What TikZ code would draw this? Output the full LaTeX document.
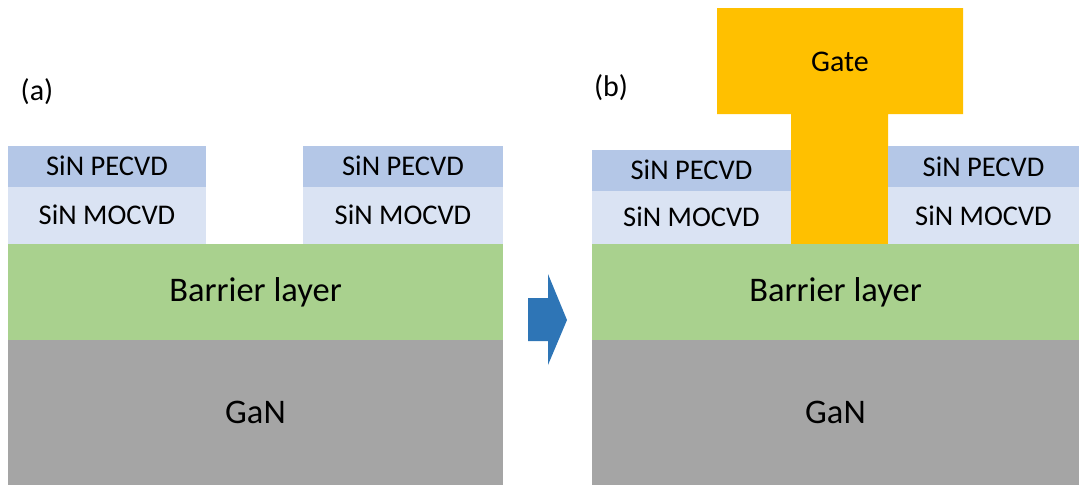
\documentclass[tikz,border=0pt]{standalone}
\usepackage{fontspec}
\setmainfont{Carlito}
\definecolor{pecvd}{HTML}{B4C7E7}
\definecolor{mocvd}{HTML}{DAE3F3}
\definecolor{barrier}{HTML}{A9D18E}
\definecolor{gan}{HTML}{A5A5A5}
\definecolor{gate}{HTML}{FFC000}
\definecolor{arrowblue}{HTML}{2E75B6}
\tikzset{
  layer/.style={anchor=north west, inner sep=0pt, outer sep=0pt, draw=none, font=\fontsize{28.5}{32}\selectfont},
  biglayer/.style={layer, font=\fontsize{34.5}{38}\selectfont},
  lbl/.style={inner sep=0pt, font=\fontsize{30}{34}\selectfont},
}
\begin{document}
\begin{tikzpicture}[x=1pt,y=-1pt]
\useasboundingbox (0,0) rectangle (1079,485);
% ---------- panel (a)
\node[lbl] (la) at (37,92) {(a)};
\node[layer, fill=pecvd, minimum width=198pt, minimum height=40.5pt] (apL) at (8,146) {SiN PECVD};
\node[layer, fill=mocvd, minimum width=198pt, minimum height=57.5pt] (amL) at (8,186.5) {SiN MOCVD};
\node[layer, fill=pecvd, minimum width=200pt, minimum height=40.5pt] (apR) at (303,146) {SiN PECVD};
\node[layer, fill=mocvd, minimum width=200pt, minimum height=57.5pt] (amR) at (303,186.5) {SiN MOCVD};
\node[biglayer, fill=barrier, minimum width=495pt, minimum height=96pt] (ab) at (8,244) {Barrier layer};
\node[biglayer, fill=gan, minimum width=495pt, minimum height=145pt] (ag) at (8,340) {GaN};
% ---------- arrow
\fill[arrowblue] (528,298) -- (548,298) -- (548,274) -- (567,320) -- (548,365) -- (548,341) -- (528,341) -- cycle;
% ---------- panel (b)
\node[lbl] (lb) at (611,88) {(b)};
\fill[gate] (717,8) -- (963,8) -- (963,114) -- (888,114) -- (888,244) -- (791,244) -- (791,114) -- (717,114) -- cycle;
\node[lbl] (gt) at (840,62) {Gate};
\node[layer, fill=pecvd, minimum width=199pt, minimum height=40.5pt] (bpL) at (592,150) {SiN PECVD};
\node[layer, fill=mocvd, minimum width=199pt, minimum height=53.5pt] (bmL) at (592,190.5) {SiN MOCVD};
\node[layer, fill=pecvd, minimum width=191pt, minimum height=41pt] (bpR) at (888,146) {SiN PECVD};
\node[layer, fill=mocvd, minimum width=191pt, minimum height=57pt] (bmR) at (888,187) {SiN MOCVD};
\node[biglayer, fill=barrier, minimum width=487pt, minimum height=96pt] (bb) at (592,244) {Barrier layer};
\node[biglayer, fill=gan, minimum width=487pt, minimum height=145pt] (bg) at (592,340) {GaN};
\end{tikzpicture}
\end{document}
